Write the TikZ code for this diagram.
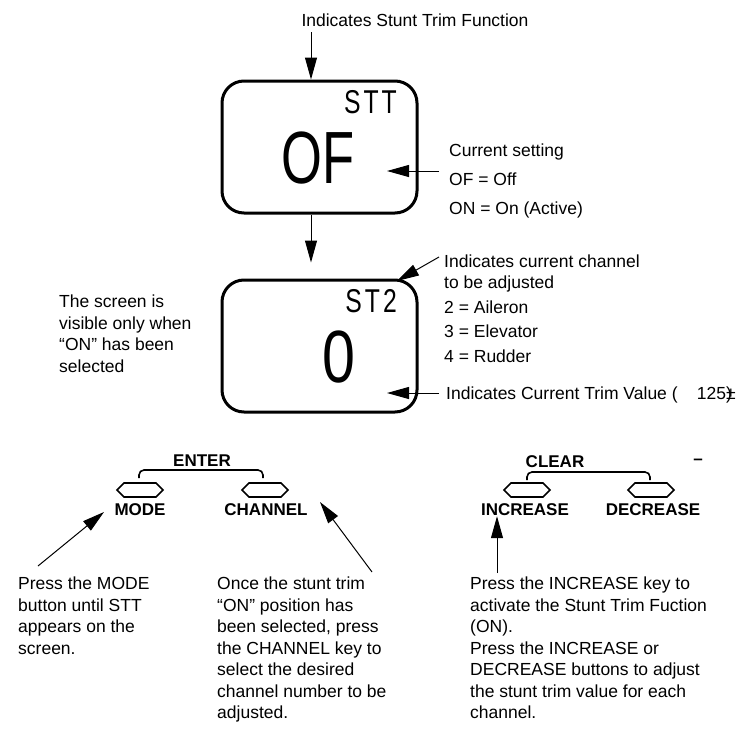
\documentclass[tikz,border=0pt]{standalone}
\usepackage{fontspec}
\setmainfont{Liberation Sans}
\usetikzlibrary{arrows.meta,positioning}
\tikzset{
    pointer/.style={-{Triangle[length=22pt,width=12pt]},line width=1pt},
    lcdbox/.style={draw,line width=3pt,rounded corners=22pt,minimum width=195pt,minimum height=132pt,inner sep=0pt},
    lcdsmall/.style={font=\fontsize{33}{33}\selectfont,inner sep=0pt},
    lcdbig/.style={font=\fontsize{74}{74}\selectfont,inner sep=0pt},
    note/.style={font=\fontsize{17.5}{21.5}\selectfont,align=left,inner sep=0pt,anchor=north west},
    keycap/.style={font=\bfseries\fontsize{17}{17}\selectfont,inner sep=0pt},
    keypad/.style={line width=1.6pt,line join=miter},
    keybrace/.style={line width=1.6pt,rounded corners=5pt},
    btn/.pic={
        \draw[keypad] (-23,0) -- (-16,-7) -- (16,-7) -- (23,0) -- (16,7) -- (-16,7) -- cycle;
    }
}
\newcommand{\lcdtext}[2]{\scalebox{#1}[1]{#2}}

\begin{document}
\begin{tikzpicture}[x=1pt,y=-1pt]
\useasboundingbox (0,0) rectangle (739,734);
\node[lcdbox] (scr1) at (319.5,147) {};
\node[lcdbox] (scr2) at (319.5,346) {};
\node[lcdsmall,anchor=east] (sttlbl) at (397,102) {\lcdtext{0.75}{S\kern4pt T\kern4pt T}};
\node[lcdbig] (sttval) at (318,158) {\lcdtext{0.71}{OF}};
\node[lcdsmall,anchor=east] (chlbl) at (397,301) {\lcdtext{0.75}{S\kern4pt T\kern4pt 2}};
\node[lcdbig] (chval) at (339,357) {\lcdtext{0.8}{0}};

\node[font=\fontsize{17.5}{21.5}\selectfont,inner sep=0pt] (fnnote) at (415,20) {Indicates Stunt Trim Function};
\node[note,font=\fontsize{17.5}{29}\selectfont] (setnote) at (449,144) {Current setting\\OF = Off\\ON = On (Active)};
\node[note,font=\fontsize{17.5}{21}\selectfont] (chnote) at (444,255) {Indicates current channel\\to be adjusted\\[3.5pt]2 = Aileron\\[3.5pt]3 = Elevator\\[3.5pt]4 = Rudder};
\node[note,anchor=west] (trimnote) at (446,395) {Indicates Current Trim Value (\hspace{1.1em}125\rlap{)}±};
\node[note] (visnote) at (59,295) {The screen is\\visible only when\\“ON” has been\\selected};

\coordinate (fntail) at (311,32);
\draw[pointer] (fntail) -- (fntail |- scr1.north);
\draw[pointer,shorten >=16pt] (fntail |- scr1.south) -- (fntail |- scr2.north);
\coordinate (settail) at (439,171);
\coordinate (settip) at (387,171);
\draw[pointer] (settail) -- (settip);
\coordinate (chtail) at (439,257);
\coordinate (chtip) at (397,281);
\draw[pointer] (chtail) -- (chtip);
\coordinate (trimtail) at (439,393);
\coordinate (trimtip) at (387,393);
\draw[pointer] (trimtail) -- (trimtip);

\node[keycap] (enterlbl) at (202,461) {ENTER};
\draw[keybrace] (139,478) -- (139,470) -- (263,470) -- (263,478);
\pic (modebtn) at (140,490) {btn};
\pic (chanbtn) at (265,490) {btn};
\node[keycap] (modelbl) at (140,510) {MODE};
\node[keycap] (chanlbl) at (266,510) {CHANNEL};

\node[keycap] (clearlbl) at (555,462) {CLEAR};
\node[keycap] (minuslbl) at (698,462) {–};
\draw[keybrace] (527,480) -- (527,472) -- (650,472) -- (650,480);
\pic (incbtn) at (527,490) {btn};
\pic (decbtn) at (651,490) {btn};
\node[keycap] (inclbl) at (525,510) {INCREASE};
\node[keycap] (declbl) at (653,510) {DECREASE};

\node[note] (modenote) at (18,577) {Press the MODE\\button until STT\\appears on the\\screen.};
\node[note] (channote) at (217,577) {Once the stunt trim\\“ON” position has\\been selected, press\\the CHANNEL key to\\select the desired\\channel number to be\\adjusted.};
\node[note] (incnote) at (470,577) {Press the INCREASE key to\\activate the Stunt Trim Fuction\\(ON).\\Press the INCREASE or\\DECREASE buttons to adjust\\the stunt trim value for each\\channel.};

\coordinate (modetail) at (38,566);
\coordinate (modetip) at (104,512);
\draw[pointer] (modetail) -- (modetip);
\coordinate (chantail) at (372,572);
\coordinate (chantip) at (320,502);
\draw[pointer] (chantail) -- (chantip);
\coordinate (inctail) at (497,573);
\draw[pointer] (inctail) -- (inctail |- inclbl.south);
\end{tikzpicture}
\end{document}
